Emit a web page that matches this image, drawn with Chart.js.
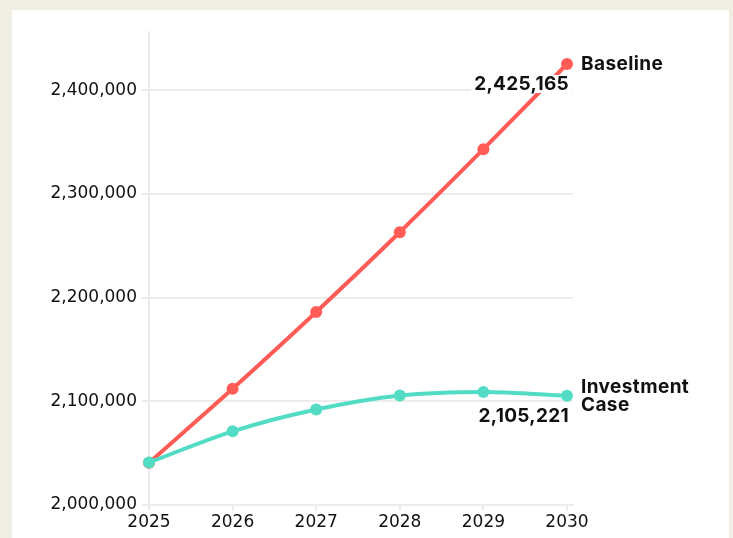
<!DOCTYPE html>
<html>
<head>
<meta charset="utf-8">
<script src="https://cdn.jsdelivr.net/npm/chart.js@4/dist/chart.umd.min.js"></script>
<style>
  html, body { margin: 0; padding: 0; background: #f0eee2; width: 733px; height: 538px; overflow: hidden; }
  #panel { position: absolute; left: 12px; top: 10px; width: 717px; height: 528px; background: #ffffff; }
</style>
</head>
<body>
<div id="panel"><canvas id="chart" width="717" height="528"></canvas></div>
<script>
const years = [2025, 2026, 2027, 2028, 2029, 2030];
const baseline = [2040700, 2112000, 2186000, 2263000, 2343000, 2425165];
const investment = [2041000, 2071000, 2092000, 2105500, 2109000, 2105221];
const yTicks = [2000000, 2100000, 2200000, 2300000, 2400000];
const seriesNames = [["Baseline"], ["Investment", "Case"]];
const lastValueLabels = ["2,425,165", "2,105,221"];

const RED = "rgb(255, 92, 88)";
const TEAL = "rgb(82, 220, 196)";
const GRID = "#ececec";

// labels at the end of each line
const endLabels = {
  id: "endLabels",
  afterDatasetsDraw(chart) {
    const ctx = chart.ctx;
    ctx.save();
    chart.data.datasets.forEach((ds, i) => {
      const meta = chart.getDatasetMeta(i);
      const pt = meta.data[meta.data.length - 1];
      const x = pt.x, y = pt.y;

      // value under the last point, with a white patch behind it
      ctx.font = "bold 19px Inter";
      ctx.letterSpacing = "0.3px";
      const txt = lastValueLabels[i];
      const w = ctx.measureText(txt).width;
      ctx.fillStyle = "#ffffff";
      ctx.fillRect(x + 2 - w - 3, y + 20 - 9, w + 6, 18);
      ctx.fillStyle = "#111111";
      ctx.textAlign = "right";
      ctx.textBaseline = "middle";
      ctx.fillText(txt, x + 2, y + 20);

      // series name to the right
      const lines = seriesNames[i];
      ctx.font = "bold 19px Inter";
      ctx.letterSpacing = "0.4px";
      ctx.textAlign = "left";
      const lh = 18;
      const y0 = y - (lines.length - 1) * lh / 2;
      lines.forEach((ln, k) => ctx.fillText(ln, x + 14, y0 + k * lh));
    });
    ctx.restore();
  }
};

const chart = new Chart(document.getElementById("chart").getContext("2d"), {
  type: "line",
  data: {
    datasets: [
      {
        label: "Baseline",
        data: years.map((y, i) => ({ x: y, y: baseline[i] })),
        borderColor: RED,
        backgroundColor: RED,
        borderWidth: 4,
        pointRadius: 6,
        pointBorderWidth: 0,
        cubicInterpolationMode: "monotone",
        clip: false,
        order: 1,
      },
      {
        label: "Investment Case",
        data: years.map((y, i) => ({ x: y, y: investment[i] })),
        borderColor: TEAL,
        backgroundColor: TEAL,
        borderWidth: 4,
        pointRadius: 6,
        pointBorderWidth: 0,
        cubicInterpolationMode: "monotone",
        clip: false,
        order: 0,
      },
    ],
  },
  options: {
    responsive: false,
    animation: false,
    layout: { padding: { left: 0, top: 22, right: 156, bottom: 0 } },
    plugins: { legend: { display: false }, tooltip: { enabled: false } },
    scales: {
      x: {
        type: "linear",
        min: 2025,
        max: 2030.072,
        afterFit(scale) { scale.height = 33; },
        afterBuildTicks(scale) { scale.ticks = years.map((v) => ({ value: v })); },
        border: { color: GRID, width: 2 },
        grid: { drawOnChartArea: false, drawTicks: true, tickLength: 6, color: GRID, lineWidth: 2 },
        ticks: {
          padding: 1,
          color: "#111111",
          font: { family: "DejaVu Sans", size: 17 },
          maxRotation: 0,
          callback: (v) => String(v),
        },
      },
      y: {
        min: 2000000,
        max: 2456000,
        afterFit(scale) { scale.width = 137; },
        afterBuildTicks(scale) { scale.ticks = yTicks.map((v) => ({ value: v })); },
        border: { color: GRID, width: 2 },
        grid: { color: GRID, lineWidth: 2, tickLength: 7 },
        ticks: {
          padding: 5,
          color: "#111111",
          font: { family: "DejaVu Sans", size: 17 },
          callback: (v) => v.toLocaleString("en-US"),
        },
      },
    },
  },
  plugins: [endLabels],
});
</script>
</body>
</html>
